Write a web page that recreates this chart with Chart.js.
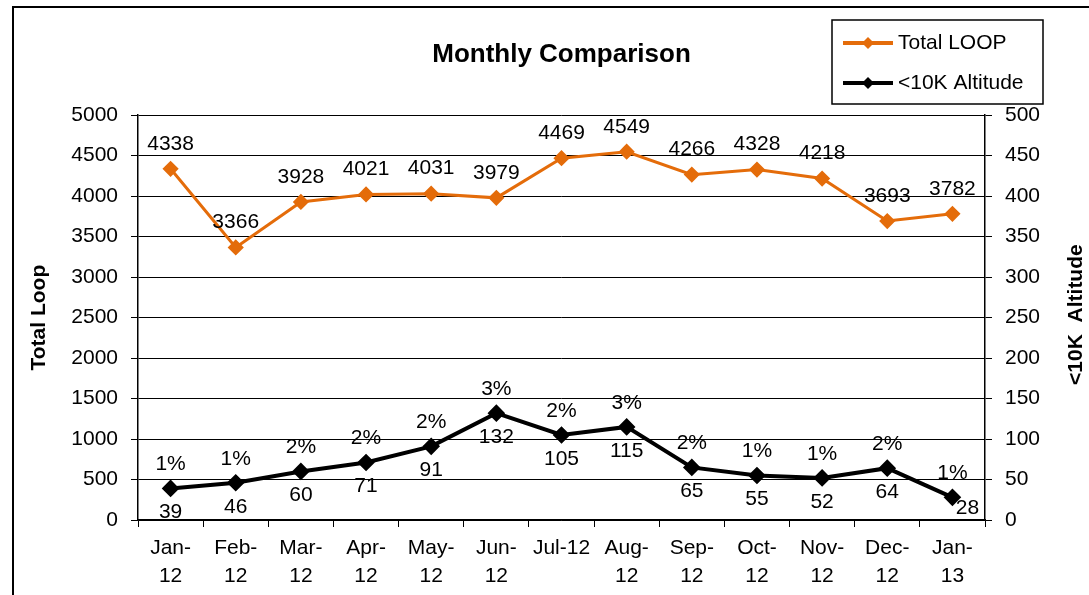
<!DOCTYPE html>
<html>
<head>
<meta charset="utf-8">
<title>Monthly Comparison</title>
<script src="https://cdn.jsdelivr.net/npm/chart.js@4/dist/chart.umd.min.js"></script>
<style>
  html, body { margin: 0; padding: 0; background: #fff; }
  .chart-wrap { position: relative; width: 1089px; height: 595px; }
</style>
</head>
<body>
<div class="chart-wrap"><canvas id="myChart"></canvas></div>
<script>
const months = [
  ["Jan-", "12"], ["Feb-", "12"], ["Mar-", "12"], ["Apr-", "12"],
  ["May-", "12"], ["Jun-", "12"], "Jul-12", ["Aug-", "12"],
  ["Sep-", "12"], ["Oct-", "12"], ["Nov-", "12"], ["Dec-", "12"], ["Jan-", "13"],
];
const totalLoop = [4338, 3366, 3928, 4021, 4031, 3979, 4469, 4549, 4266, 4328, 4218, 3693, 3782];
const altitude10k = [39, 46, 60, 71, 91, 132, 105, 115, 65, 55, 52, 64, 28];

const ORANGE = "#E46C0A";
const FONT = "'Liberation Sans', Arial, sans-serif";

// share of low altitude loops, shown above the black points
const percentLabels = altitude10k.map((v, i) => Math.round((v / totalLoop[i]) * 100) + "%");

const labelPlugin = {
  id: "pointLabels",
  afterDatasetsDraw(chart) {
    const ctx = chart.ctx;
    ctx.save();
    ctx.font = "21px " + FONT;
    ctx.fillStyle = "#000";
    ctx.textAlign = "center";
    ctx.textBaseline = "middle";

    chart.getDatasetMeta(0).data.forEach((pt, i) => {
      ctx.fillText(String(totalLoop[i]), pt.x, pt.y - 25);
    });

    const last = altitude10k.length - 1;
    chart.getDatasetMeta(1).data.forEach((pt, i) => {
      ctx.fillText(percentLabels[i], pt.x, pt.y - 24);
      if (i === last) {
        ctx.fillText(String(altitude10k[i]), pt.x + 15, pt.y + 11);
      } else {
        ctx.fillText(String(altitude10k[i]), pt.x, pt.y + 24);
      }
    });
    ctx.restore();
  },
};

const decorPlugin = {
  id: "decor",
  afterDraw(chart) {
    const ctx = chart.ctx;
    const area = chart.chartArea;
    ctx.save();

    // outer frame (only top and left edges are visible)
    ctx.strokeStyle = "#000";
    ctx.lineWidth = 2;
    ctx.beginPath();
    ctx.moveTo(13, chart.height);
    ctx.lineTo(13, 7);
    ctx.lineTo(chart.width, 7);
    ctx.stroke();

    // right axis title, reads bottom to top
    ctx.font = "bold 21px " + FONT;
    ctx.fillStyle = "#000";
    ctx.textAlign = "center";
    ctx.textBaseline = "middle";
    ctx.translate(1076, (area.top + area.bottom) / 2 - 3);
    ctx.rotate(-Math.PI / 2);
    ctx.fillText("<10K  Altitude", 0, 0);
    ctx.setTransform(1, 0, 0, 1, 0, 0);

    // legend box
    ctx.lineWidth = 1.5;
    ctx.strokeRect(832, 20, 211, 84);
    ctx.font = "21px " + FONT;
    ctx.textAlign = "left";
    chart.data.datasets.forEach((ds, i) => {
      const y = 43 + i * 40;
      ctx.strokeStyle = ds.borderColor;
      ctx.lineWidth = 4;
      ctx.beginPath();
      ctx.moveTo(843, y);
      ctx.lineTo(893, y);
      ctx.stroke();
      ctx.fillStyle = ds.borderColor;
      ctx.beginPath();
      ctx.moveTo(868, y - 6);
      ctx.lineTo(874, y);
      ctx.lineTo(868, y + 6);
      ctx.lineTo(862, y);
      ctx.closePath();
      ctx.fill();
      ctx.fillStyle = "#000";
      ctx.fillText(ds.label, 898, y);
    });
    ctx.restore();
  },
};

const config = {
  type: "line",
  data: {
    labels: months,
    datasets: [
      {
        label: "Total LOOP",
        data: totalLoop,
        yAxisID: "y",
        borderColor: ORANGE,
        backgroundColor: ORANGE,
        borderWidth: 3,
        pointStyle: "rectRot",
        pointRadius: 6,
        pointHoverRadius: 6,
        tension: 0,
      },
      {
        label: "<10K Altitude",
        data: altitude10k,
        yAxisID: "y1",
        borderColor: "#000",
        backgroundColor: "#000",
        borderWidth: 4,
        pointStyle: "rectRot",
        pointRadius: 6,
        pointHoverRadius: 6,
        tension: 0,
      },
    ],
  },
  options: {
    responsive: true,
    maintainAspectRatio: false,
    animation: false,
    layout: { padding: 0 },
    plugins: {
      legend: { display: false },
      tooltip: { enabled: false },
      title: {
        display: true,
        text: "Monthly Comparison",
        color: "#000",
        fullSize: false,
        font: { family: FONT, size: 26, weight: "bold", lineHeight: 1.2 },
        padding: { top: 39, bottom: 45 },
      },
    },
    scales: {
      x: {
        offset: true,
        grid: {
          offset: true,
          drawOnChartArea: false,
          drawTicks: true,
          tickLength: 7,
          color: "#000",
        },
        border: { display: true, color: "#000", width: 1.5 },
        ticks: {
          color: "#000",
          padding: 7,
          maxRotation: 0,
          autoSkip: false,
          font: { family: FONT, size: 21, lineHeight: 1.33 },
        },
        afterFit: (scale) => { scale.height = 75; },
      },
      y: {
        position: "left",
        min: 0,
        max: 5000,
        ticks: {
          stepSize: 500,
          color: "#000",
          padding: 13,
          font: { family: FONT, size: 21 },
          callback: (value) => String(value),
        },
        grid: { color: "#000", lineWidth: 1, tickLength: 7 },
        border: { display: true, color: "#000", width: 1.5 },
        title: {
          display: true,
          text: "Total Loop",
          color: "#000",
          padding: { top: 27, bottom: 0 },
          font: { family: FONT, size: 21, weight: "bold" },
        },
        afterFit: (scale) => { scale.width = 138; },
      },
      y1: {
        position: "right",
        min: 0,
        max: 500,
        ticks: {
          stepSize: 50,
          color: "#000",
          padding: 13,
          font: { family: FONT, size: 21 },
          callback: (value) => String(value),
        },
        grid: { drawOnChartArea: false, color: "#000", tickLength: 7 },
        border: { display: true, color: "#000", width: 1.5 },
        afterFit: (scale) => { scale.width = 104; },
      },
    },
  },
  plugins: [labelPlugin, decorPlugin],
};

const myChart = new Chart(document.getElementById("myChart"), config);
</script>
</body>
</html>
